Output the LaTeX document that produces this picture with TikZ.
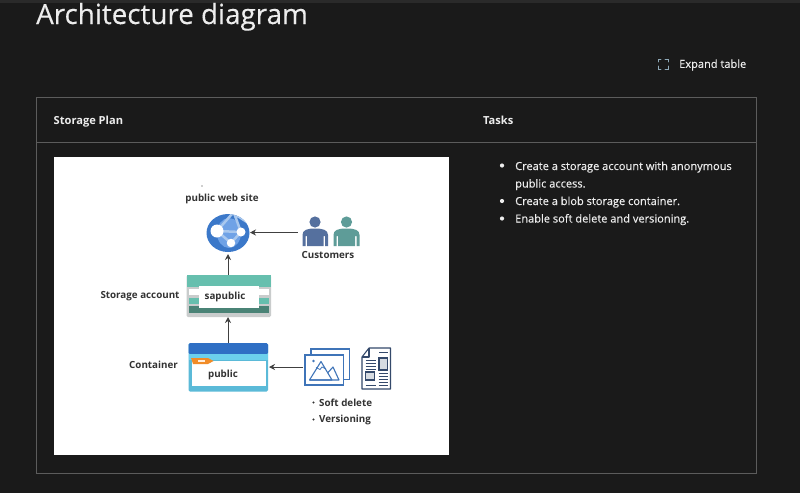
\documentclass[tikz,border=0pt]{standalone}
\usepackage{fontspec}
\setmainfont{Open Sans}
\newfontfamily\slight[FakeBold=0.25]{Open Sans}
\definecolor{bgc}{HTML}{1A1A1A}
\definecolor{topc}{HTML}{2A2A2A}
\definecolor{linec}{HTML}{5C5C5C}
\definecolor{txt}{HTML}{EDEDED}
\definecolor{dtxt}{HTML}{333333}
\definecolor{blueA}{HTML}{2F6FC4}
\definecolor{blueB}{HTML}{6CD0EC}
\definecolor{blueC}{HTML}{5BBAD8}
\definecolor{tealA}{HTML}{66BFAE}
\definecolor{tealB}{HTML}{4A8376}
\definecolor{grayA}{HTML}{C9CCCC}
\definecolor{manA}{HTML}{55709E}
\definecolor{manB}{HTML}{5E9C98}
\definecolor{navy}{HTML}{34496B}
\definecolor{picblue}{HTML}{3F74B8}
\definecolor{globeA}{HTML}{3B78C9}
\definecolor{globeB}{HTML}{6FA2E6}
\definecolor{globeL}{HTML}{A9C8EE}
\definecolor{iconc}{HTML}{8FA9B8}
\tikzset{
  lbl/.style={font=\fontsize{9.8}{12}\selectfont\bfseries\color{dtxt},inner sep=0pt,anchor=center},
  dk/.style={font=\fontsize{11.05}{16}\selectfont\slight\color{txt},inner sep=0pt},
  hdr/.style={font=\fontsize{11.1}{14}\selectfont\bfseries\color{txt},inner sep=0pt,anchor=base west},
  conn/.style={draw=black!75,line width=0.9pt,-{Stealth[length=6pt,width=6pt]}},
  doc/.style={draw=navy,line width=1.1pt},
  pic/.style={draw=picblue,line width=1.2pt,fill=white}
}
\usetikzlibrary{arrows.meta}
\begin{document}
\begin{tikzpicture}[x=1pt,y=-1pt]
\useasboundingbox (0,0) rectangle (800,493);
\fill[bgc] (0,0) rectangle (800,493);
\fill[topc] (0,0) rectangle (800,3);
\node[anchor=base west,inner sep=0pt,font=\fontsize{27.8}{30}\selectfont\slight\color{txt}] (title) at (36,24) {Architecture diagram};
% expand icon
\draw[line width=0.9pt,draw=iconc,line cap=round]
  (658,62) -- (658,59) -- (661,59) (665,59) -- (668,59) -- (668,62)
  (668,66) -- (668,69) -- (665,69) (661,69) -- (658,69) -- (658,66);
\node[dk,anchor=west] (expand) at (679,65) {Expand table};
% table
\draw[linec,line width=0.8pt] (36.5,97.5) rectangle (756.5,473.5);
\draw[linec,line width=0.8pt] (36.5,142.5) -- (756.5,142.5);
\node[hdr] (h1) at (53.5,124.5) {Storage Plan};
\node[hdr] (h2) at (483,124.5) {Tasks};
% bullets
\foreach \n/\yy in {a/165.5,b/201,c/218.5}{\fill[txt] (502,\yy) circle (2.1pt);}
\node[dk,anchor=base west,align=left] (t1) at (515,170) {Create a storage account with anonymous};
\node[dk,anchor=base west] (t1b) at (515,187.5) {public access.};
\node[dk,anchor=base west] (t2) at (515,205) {Create a blob storage container.};
\node[dk,anchor=base west] (t3) at (515,222.5) {Enable soft delete and versioning.};
% white panel
\fill[white] (54,157) rectangle (449,455);
% labels
\fill[dtxt] (202,186) circle (0.7pt);
\node[lbl] (web) at (222,198.5) {public web site};
\node[lbl] (cust) at (328,254.5) {Customers};
\node[lbl] (sa) at (140,296.5) {Storage account};
\node[lbl] (cont) at (153.5,364.5) {Container};
% web globe
\begin{scope}
\path[fill=globeA] (228,233) ellipse (21.5pt and 19pt);
\clip (228,233) ellipse (21.5pt and 19pt);
\fill[globeB] (229,233) ellipse (12pt and 15pt);
\draw[globeL,line width=2.5pt] (217,231) -- (241,232) (217,231) -- (231,243) (241,232) -- (231,243) (232,214) -- (217,231) (234,213) -- (241,232) (236,215) -- (250,224);
\end{scope}
\node[circle,fill=white,minimum size=13pt,inner sep=0pt] (g1) at (217,231) {};
\node[circle,fill=white,minimum size=9pt,inner sep=0pt] (g2) at (241,232) {};
\node[circle,fill=white,minimum size=8.5pt,inner sep=0pt] (g3) at (231,243) {};
\coordinate (webc) at (228,233);
\coordinate (webR) at (250,232.5);
\coordinate (webB) at (228,254);
% people
\fill[manA] (315,222) circle (5.6pt);
\fill[manA] (302.5,246) -- (302.5,235) .. controls (302.5,230) and (307,228.5) .. (315,228.5) .. controls (323,228.5) and (328,230) .. (328,235) -- (328,246) -- (325,246) -- (325,236) -- (323.5,236) -- (323.5,246) -- (307,246) -- (307,236) -- (305.5,236) -- (305.5,246) -- cycle;
\fill[manB] (346.5,222) circle (5.6pt);
\fill[manB] (333.5,246) -- (333.5,235) .. controls (333.5,230) and (338,228.5) .. (346.5,228.5) .. controls (355,228.5) and (359.5,230) .. (359.5,235) -- (359.5,246) -- (356.5,246) -- (356.5,236) -- (355,236) -- (355,246) -- (338,246) -- (338,236) -- (336.5,236) -- (336.5,246) -- cycle;
\coordinate (peopleL) at (297.5,232.5);
% storage account
\fill[grayA,rounded corners=1.5pt] (186.5,275) rectangle (271,317);
\fill[tealA] (186.5,275) rectangle (271,287);
\fill[white] (188.5,289) rectangle (269,295);
\fill[tealA] (188.5,298) rectangle (269,304);
\fill[tealB] (188.5,306) rectangle (269,313);
\node[fill=white,minimum width=60pt,minimum height=22pt,inner sep=0pt,font=\fontsize{9.8}{12}\selectfont\bfseries\color{dtxt}] (sap) at (228.5,297) {\hspace*{-7pt}sapublic};
\coordinate (saT) at (228,275);
\coordinate (saB) at (228,317);
% container
\fill[blueC,rounded corners=1.5pt] (188.5,343) rectangle (268,391.5);
\fill[blueA,rounded corners=1.5pt] (188.5,343) rectangle (268,354);
\fill[blueB] (188.5,354) rectangle (268,360);
\fill[white] (191.5,360.5) rectangle (265.5,385.5);
\fill[orange!75!brown!90!white] (191,358) -- (208,358) -- (213.5,361) -- (208,364) -- (193,364) -- cycle;
\fill[white!85!orange] (197.5,359.8) rectangle (205,361.6);
\node[lbl] (pub) at (223,374.5) {public};
\coordinate (cT) at (228,343);
\coordinate (cR) at (269,367);
% pictures
\draw[pic] (311,349) rectangle (349.5,379.5);
\draw[pic] (305,355) rectangle (343.5,385);
\fill[picblue] (313.5,361) circle (1.4pt);
\draw[picblue,line width=1.1pt,line join=round] (309.5,380) -- (321,361.5) -- (332,380) -- cycle;
\draw[picblue,line width=1.1pt,line join=round] (328,372.5) -- (333,367) -- (339,380) -- (309.5,380);
\draw[picblue,line width=.8pt] (316,367.5) -- (320,369.5) -- (322,367) -- (326,369);
\coordinate (picL) at (303,367);
% document
\draw[doc,line join=round] (362,357) -- (369,348) -- (390.5,348) -- (390.5,389) -- (362,389) -- cycle;
\draw[doc,line join=round] (369,348) -- (369,357) -- (362,357);
\draw[doc,fill=white!80!navy] (379,358) rectangle (387.5,370);
\draw[doc,fill=white!80!navy] (365.5,372) rectangle (374.5,380);
\foreach \yy in {360,363,366,369}{\draw[doc,line width=.9pt] (365.5,\yy) -- (375.5,\yy);}
\foreach \yy in {373,376,379,382,385}{\draw[doc,line width=.9pt] (378.5,\yy) -- (388,\yy);}
\draw[doc,line width=.9pt] (365.5,385) -- (375.5,385);
\draw[doc,line width=.9pt] (379,352) -- (388,352);
% list
\fill[dtxt] (313.5,402.5) circle (1.2pt);
\fill[dtxt] (313.5,419.5) circle (1.2pt);
\node[lbl,anchor=west] (sd) at (319,403) {Soft delete};
\node[lbl,anchor=west] (ver) at (319,420) {Versioning};
% connectors
\draw[conn] (peopleL) -- (webR);
\draw[conn] (saT) -- (webB);
\draw[conn] (cT) -- (saB);
\draw[conn] (picL) -- (cR);
\end{tikzpicture}
\end{document}
